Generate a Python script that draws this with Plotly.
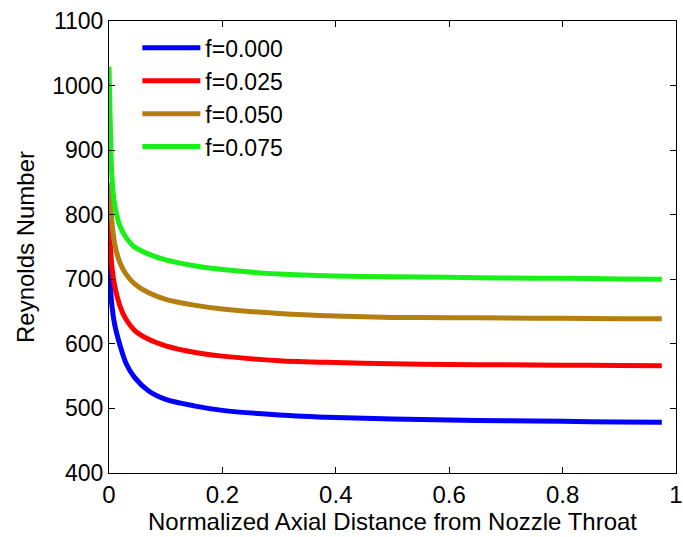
import plotly.graph_objects as go

x_vals = [0, 0.002, 0.005, 0.01, 0.02, 0.03, 0.045, 0.07, 0.1, 0.15, 0.2, 0.3, 0.4, 0.5, 0.6, 0.7, 0.8, 0.9, 0.975]
re_f0000 = [760, 700, 660, 630, 596, 570, 548, 527, 514, 504, 497, 490, 486, 483.5, 482, 481, 480, 479, 478.5]
re_f0025 = [800, 760, 720, 690, 657, 638, 621, 607, 597, 587, 581, 574, 571, 569, 568, 567.5, 567, 566.5, 566]
re_f0050 = [850, 820, 790, 755, 724, 708, 693, 679, 669, 660, 654, 647, 643, 641, 640.5, 640, 639.5, 639, 639]
re_f0075 = [1029, 950, 860, 815, 781, 765, 750, 739, 730, 721, 715, 708, 705, 704, 703, 702, 701.5, 700.5, 700]

series_names = ["f=0.000", "f=0.025", "f=0.050", "f=0.075"]
series_vals = [re_f0000, re_f0025, re_f0050, re_f0075]
colors = ["#0000FF", "#FF0000", "#B47E10", "#19F019"]

x_ticks = [0, 0.2, 0.4, 0.6, 0.8, 1]
x_ticklabels = ["0", "0.2", "0.4", "0.6", "0.8", "1"]
y_ticks = [400, 500, 600, 700, 800, 900, 1000, 1100]

FONT = "Liberation Sans, Arial, sans-serif"

fig = go.Figure()
for name, vals, c in zip(series_names, series_vals, colors):
    fig.add_trace(go.Scatter(x=x_vals, y=vals, mode="lines", name=name,
                             line=dict(color=c, width=5, shape="spline", smoothing=0.8)))

fig.update_layout(
    width=683, height=537,
    margin=dict(l=109, r=7, t=21, b=64),
    paper_bgcolor="white", plot_bgcolor="white",
    font=dict(family=FONT, size=24, color="black"),
    showlegend=True,
    legend=dict(x=0.05, y=0.988, xanchor="left", yanchor="top",
                bgcolor="rgba(0,0,0,0)", borderwidth=0,
                font=dict(family=FONT, size=23, color="black"),
                itemwidth=58, tracegroupgap=0),
)
fig.update_xaxes(range=[0, 1], tickvals=x_ticks, ticktext=x_ticklabels,
                 showline=True, linecolor="black", linewidth=1, mirror="ticks",
                 ticks="inside", ticklen=6, tickcolor="black", showgrid=False, zeroline=False,
                 automargin=False, ticklabeloverflow="allow",
                 title=dict(text="Normalized Axial Distance from Nozzle Throat", standoff=4,
                            font=dict(family=FONT, size=24)),
                 tickfont=dict(family=FONT, size=24))
fig.update_yaxes(range=[400, 1100], tickvals=y_ticks,
                 showline=True, linecolor="black", linewidth=1, mirror="ticks",
                 ticks="inside", ticklen=6, tickcolor="black", showgrid=False, zeroline=False,
                 automargin=False, ticklabeloverflow="allow",
                 title=dict(text="Reynolds Number", standoff=10,
                            font=dict(family=FONT, size=24)),
                 tickfont=dict(family=FONT, size=23))

fig.write_html("out.html")
